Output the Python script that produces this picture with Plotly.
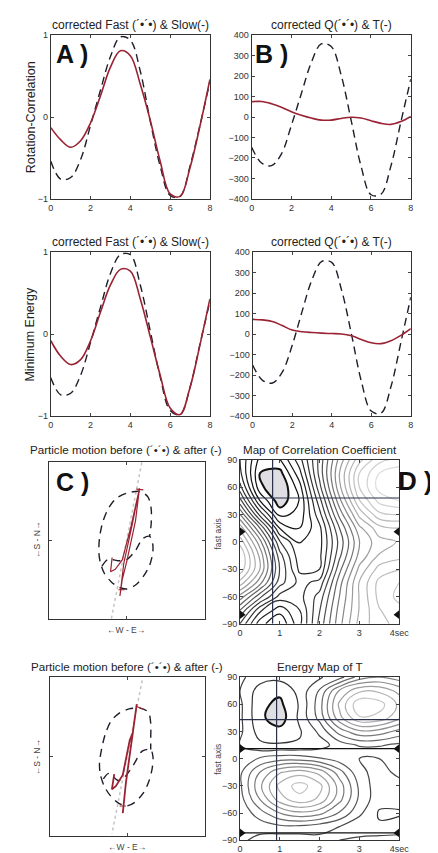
import plotly.graph_objects as go

W, H = 438, 853

# ---------------- data ----------------
t = [0, 0.5, 1, 1.5, 2, 2.5, 3, 3.5, 4, 4.5, 5, 5.5, 6, 6.5, 7, 7.5, 8]

rc_fast = [-0.54, -0.76, -0.74, -0.52, -0.10, 0.33, 0.74, 0.98, 0.94, 0.56, -0.05, -0.60, -0.96, -0.97, -0.60, -0.10, 0.43]
rc_slow = [-0.13, -0.28, -0.37, -0.29, -0.07, 0.26, 0.61, 0.81, 0.75, 0.40, -0.04, -0.54, -0.94, -0.97, -0.62, -0.11, 0.46]
rc_Q = [-148, -225, -238, -180, -40, 115, 267, 358, 345, 205, -15, -240, -380, -378, -240, -25, 185]
rc_T = [75, 76, 65, 48, 26, 9, -5, -15, -15, -7, -1, -5, -18, -31, -36, -22, 3]

me_fast = [-0.53, -0.74, -0.72, -0.50, -0.10, 0.33, 0.74, 0.97, 0.97, 0.60, 0.04, -0.52, -0.93, -0.98, -0.65, -0.12, 0.40]
me_slow = [-0.08, -0.27, -0.37, -0.31, -0.08, 0.27, 0.60, 0.79, 0.77, 0.43, -0.03, -0.50, -0.90, -0.98, -0.65, -0.13, 0.43]
me_Q = [-150, -225, -238, -185, -55, 110, 265, 355, 350, 215, 0, -230, -375, -385, -255, -40, 180]
me_T = [72, 70, 62, 42, 20, 12, 8, 5, 3, 1, -8, -26, -42, -46, -32, -6, 27]

# particle motion (normalised units)
pm1_before_x = [-0.32, -0.24, -0.12, -0.01, 0.11, 0.20, 0.29, 0.33, 0.33, 0.29, 0.21, 0.11, 0.00, -0.10, -0.20, -0.29, -0.34, -0.36, -0.35, -0.31, -0.24, -0.14, 0.00, 0.17, 0.27, 0.31, 0.31, 0.29]
pm1_before_y = [-0.33, -0.24, -0.26, -0.25, -0.13, 0.02, 0.05, -0.05, -0.16, -0.32, -0.46, -0.57, -0.62, -0.60, -0.53, -0.42, -0.29, -0.15, 0.04, 0.23, 0.40, 0.53, 0.60, 0.62, 0.55, 0.40, 0.21, 0.05]
pm1_after_x = [-0.19, -0.21, -0.15, -0.06, 0.05, 0.16, 0.07, -0.04, -0.09, -0.06, 0.00, 0.11, 0.16]
pm1_after_y = [-0.22, -0.40, -0.37, -0.25, 0.17, 0.66, 0.21, -0.29, -0.71, -0.50, -0.26, 0.25, 0.66]
pm1_ticks_x = [0.12, 0.21, None, -0.11, -0.03]
pm1_ticks_y = [0.65, 0.64, None, -0.63, -0.63]
pm1_axis_x = [0.19, -0.20]
pm1_axis_y = [0.99, -1.0]

pm2_before_x = [-0.31, -0.24, -0.12, -0.04, 0.08, 0.19, 0.30, 0.33, 0.32, 0.28, 0.21, 0.10, -0.01, -0.12, -0.22, -0.30, -0.35, -0.36, -0.33, -0.28, -0.21, -0.10, 0.02, 0.16, 0.27, 0.30, 0.30, 0.30]
pm2_before_y = [-0.28, -0.21, -0.30, -0.26, -0.10, 0.07, 0.09, -0.01, -0.14, -0.30, -0.45, -0.57, -0.62, -0.58, -0.49, -0.37, -0.22, -0.08, 0.11, 0.30, 0.45, 0.55, 0.60, 0.61, 0.56, 0.42, 0.23, 0.09]
pm2_after_x = [-0.17, -0.20, -0.15, -0.06, 0.03, 0.07, 0.05, 0.12, 0.04, -0.02, -0.06]
pm2_after_y = [-0.22, -0.41, -0.37, -0.23, 0.21, 0.30, 0.17, 0.66, 0.13, -0.33, -0.71]
pm2_ticks_x = [0.12, 0.20, None, -0.10, -0.02]
pm2_ticks_y = [0.63, 0.60, None, -0.62, -0.62]
pm2_axis_x = [0.19, -0.20]
pm2_axis_y = [0.96, -0.97]

# contour maps
map_dt = [0, 0.5, 1, 1.5, 2, 2.5, 3, 3.5, 4]
map_phi = [-90, -75, -60, -45, -30, -15, 0, 15, 30, 45, 60, 75, 90]
corr_z = [
    [0.45, 0.72, 0.82, 0.62, 0.35, 0.10, -0.10, -0.20, -0.25],
    [0.30, 0.58, 0.72, 0.60, 0.38, 0.12, -0.08, -0.22, -0.28],
    [0.10, 0.35, 0.55, 0.55, 0.42, 0.15, -0.08, -0.25, -0.32],
    [-0.12, 0.12, 0.42, 0.55, 0.50, 0.18, -0.08, -0.25, -0.30],
    [-0.28, 0.00, 0.38, 0.62, 0.60, 0.25, -0.02, -0.18, -0.22],
    [-0.30, 0.02, 0.42, 0.65, 0.62, 0.32, 0.05, -0.08, -0.12],
    [-0.20, 0.12, 0.52, 0.68, 0.63, 0.35, 0.08, -0.05, -0.08],
    [-0.05, 0.30, 0.68, 0.75, 0.62, 0.30, 0.02, -0.12, -0.15],
    [0.15, 0.55, 0.85, 0.80, 0.55, 0.20, -0.10, -0.28, -0.30],
    [0.35, 0.75, 0.95, 0.82, 0.48, 0.10, -0.22, -0.40, -0.45],
    [0.50, 0.88, 0.98, 0.78, 0.40, 0.02, -0.30, -0.48, -0.52],
    [0.58, 0.90, 0.93, 0.70, 0.35, 0.00, -0.30, -0.45, -0.50],
    [0.60, 0.85, 0.83, 0.63, 0.35, 0.05, -0.20, -0.35, -0.40],
]
energy_z = [
    [0.30, 0.25, 0.22, 0.22, 0.25, 0.28, 0.30, 0.32, 0.32],
    [0.28, 0.32, 0.35, 0.35, 0.32, 0.28, 0.22, 0.20, 0.22],
    [0.30, 0.42, 0.55, 0.62, 0.58, 0.45, 0.30, 0.18, 0.18],
    [0.33, 0.55, 0.78, 0.88, 0.80, 0.58, 0.35, 0.22, 0.22],
    [0.35, 0.62, 0.85, 0.95, 0.85, 0.60, 0.35, 0.22, 0.25],
    [0.35, 0.55, 0.72, 0.78, 0.70, 0.50, 0.30, 0.25, 0.30],
    [0.32, 0.38, 0.42, 0.42, 0.38, 0.32, 0.28, 0.28, 0.32],
    [0.28, 0.21, 0.20, 0.20, 0.24, 0.32, 0.38, 0.38, 0.35],
    [0.30, 0.15, 0.13, 0.18, 0.30, 0.50, 0.62, 0.60, 0.52],
    [0.30, 0.12, 0.05, 0.21, 0.40, 0.70, 0.90, 0.88, 0.75],
    [0.30, 0.12, 0.08, 0.20, 0.42, 0.75, 0.98, 0.95, 0.80],
    [0.28, 0.15, 0.12, 0.22, 0.38, 0.65, 0.80, 0.80, 0.70],
    [0.30, 0.23, 0.22, 0.25, 0.27, 0.33, 0.50, 0.55, 0.50],
]
corr_best = [0.82, 48]
energy_best = [0.92, 43]
corr_marks_phi = [11, -80]
energy_marks_phi = [11, -82]

# ---------------- figure ----------------
FONT = "Liberation Sans, Arial, sans-serif"
RED = "#9a2232"
DASH = "#1e1e2a"

def px_x(p):
    return p / W

def px_y(p):
    return 1 - p / H

panels = {
    1: ([41, 205], [22.5, 188]),
    2: ([248, 412], [22.5, 188]),
    3: ([41, 205], [242, 408]),
    4: ([249, 412], [242, 408]),
    5: ([39, 200], [454, 613]),
    6: ([236, 400], [452, 618]),
    7: ([40, 200], [672, 833]),
    8: ([236, 400], [672, 837]),
}

fig = go.Figure()
layout = dict(
    width=W, height=H, margin=dict(l=0, r=0, t=0, b=0),
    paper_bgcolor="white", plot_bgcolor="white", showlegend=False,
    font=dict(family=FONT, size=9, color="#333"),
)

def axis_common():
    return dict(showgrid=False, zeroline=False, showline=True, linecolor="#333", linewidth=1,
                mirror="ticks", ticks="inside", ticklen=3, tickcolor="#444",
                tickfont=dict(size=9, color="#333", family=FONT))

for k, (xs, ys) in panels.items():
    xa = axis_common()
    ya = axis_common()
    xa["domain"] = [px_x(xs[0]), px_x(xs[1])]
    ya["domain"] = [px_y(ys[1]), px_y(ys[0])]
    xa["anchor"] = "y" if k == 1 else f"y{k}"
    ya["anchor"] = "x" if k == 1 else f"x{k}"
    if k in (1, 3):
        xa.update(range=[0, 8], tickvals=[0, 2, 4, 6, 8])
        ya.update(range=[-1, 1], tickvals=[-1, 0, 1])
    elif k in (2, 4):
        xa.update(range=[0, 8], tickvals=[0, 2, 4, 6, 8])
        ya.update(range=[-400, 400], tickvals=list(range(-400, 401, 100)))
    elif k in (5, 7):
        xa.update(range=[-1, 1], tickvals=[0], showticklabels=False)
        ya.update(range=[-1, 1], tickvals=[0], showticklabels=False)
    else:
        xa.update(range=[0, 4], tickvals=[0, 1, 2, 3, 4], ticktext=["0", "1", "2", "3", "4sec"])
        ya.update(range=[-90, 90], tickvals=[-90, -60, -30, 0, 30, 60, 90])
    layout["xaxis" if k == 1 else f"xaxis{k}"] = xa
    layout["yaxis" if k == 1 else f"yaxis{k}"] = ya

def ax(k):
    return ("x", "y") if k == 1 else (f"x{k}", f"y{k}")

def add_lines(k, fast, slow):
    xa, ya = ax(k)
    fig.add_trace(go.Scatter(x=t, y=fast, mode="lines", xaxis=xa, yaxis=ya,
                             line=dict(color=DASH, width=1.4, dash="8px,5px", shape="spline", smoothing=1.0)))
    fig.add_trace(go.Scatter(x=t, y=slow, mode="lines", xaxis=xa, yaxis=ya,
                             line=dict(color=RED, width=1.6, shape="spline", smoothing=1.0)))

add_lines(1, rc_fast, rc_slow)
add_lines(2, rc_Q, rc_T)
add_lines(3, me_fast, me_slow)
add_lines(4, me_Q, me_T)

def add_pm(k, bx, by, axx, axy, afx, afy, tkx, tky, w):
    xa, ya = ax(k)
    fig.add_trace(go.Scatter(x=axx, y=axy, mode="lines", xaxis=xa, yaxis=ya,
                             line=dict(color="#c4c4c4", width=1.5, dash="dot")))
    fig.add_trace(go.Scatter(x=bx, y=by, mode="lines", xaxis=xa, yaxis=ya,
                             line=dict(color=DASH, width=1.4, dash="8px,6px", shape="spline", smoothing=0.8)))
    fig.add_trace(go.Scatter(x=afx, y=afy, mode="lines", xaxis=xa, yaxis=ya,
                             line=dict(color=RED, width=w)))
    fig.add_trace(go.Scatter(x=tkx, y=tky, mode="lines", xaxis=xa, yaxis=ya,
                             line=dict(color=RED, width=1.2)))

add_pm(5, pm1_before_x, pm1_before_y, pm1_axis_x, pm1_axis_y, pm1_after_x, pm1_after_y, pm1_ticks_x, pm1_ticks_y, 1.2)
add_pm(7, pm2_before_x, pm2_before_y, pm2_axis_x, pm2_axis_y, pm2_after_x, pm2_after_y, pm2_ticks_x, pm2_ticks_y, 1.8)

def add_map(k, z, best, marks, fill_op, fill_val, lo, hi, start, end, step, reverse, marklines):
    xa, ya = ax(k)
    cs = [[0, "#e2e2e2"], [0.35, "#a8a8a8"], [0.65, "#4a4a4a"], [1, "#111111"]]
    if reverse:
        cs = [[0, "#333333"], [0.25, "#5a5a5a"], [0.55, "#8c8c8c"], [1, "#d6d6d6"]]
    # plotly shades the region that violates the constraint
    fig.add_trace(go.Contour(x=map_dt, y=map_phi, z=z, xaxis=xa, yaxis=ya, showscale=False,
                             contours=dict(type="constraint", operation=fill_op, value=fill_val),
                             fillcolor="rgba(212,212,218,0.75)", line=dict(color="#111", width=2, smoothing=1.2)))
    fig.add_trace(go.Contour(x=map_dt, y=map_phi, z=z, xaxis=xa, yaxis=ya, showscale=False,
                             contours=dict(coloring="lines", start=start, end=end, size=step),
                             colorscale=cs, zmin=lo, zmax=hi, line=dict(width=1.2, smoothing=1.2)))
    fig.add_trace(go.Scatter(x=[best[0], best[0]], y=[-90, 90], mode="lines", xaxis=xa, yaxis=ya,
                             line=dict(color="#2a3048", width=1.2)))
    fig.add_trace(go.Scatter(x=[0, 4], y=[best[1], best[1]], mode="lines", xaxis=xa, yaxis=ya,
                             line=dict(color="#2a3048", width=1.2)))
    for m in marks:
        if marklines:
            fig.add_trace(go.Scatter(x=[0, 4], y=[m, m], mode="lines", xaxis=xa, yaxis=ya,
                                     line=dict(color="#111", width=1.2)))
        fig.add_trace(go.Scatter(x=[0.04, 3.96], y=[m, m], mode="markers", xaxis=xa, yaxis=ya, cliponaxis=False,
                                 marker=dict(symbol=["triangle-right", "triangle-left"], size=8, color="#111")))

add_map(6, corr_z, corr_best, corr_marks_phi, "<", 0.9, -0.5, 1.0, -0.9, 0.84, 0.075, False, False)
add_map(8, energy_z, energy_best, energy_marks_phi, ">", 0.1, 0.0, 1.0, 0.19, 1.0, 0.09, True, True)

ann = []
def text(x, y, s, size=12, angle=0, bold=False, color="#222", anchor="center"):
    ann.append(dict(x=px_x(x), y=px_y(y), xref="paper", yref="paper", text=f"<b>{s}</b>" if bold else s,
                    showarrow=False, textangle=angle, xanchor=anchor, yanchor="middle",
                    font=dict(family=FONT, size=size, color=color)))

text(123, 12, "corrected Fast (´•´•) & Slow(-)")
text(330, 12, "corrected Q(´•´•) & T(-)")
text(123, 232, "corrected Fast (´•´•) & Slow(-)")
text(330, 232, "corrected Q(´•´•) & T(-)")
text(119, 442, "Particle motion before (´•´•) & after (-)", size=11.6)
text(318, 442, "Map of Correlation Coefficient", size=11.6)
text(120, 661, "Particle motion before (´•´•) & after (-)", size=11.6)
text(318, 661, "Energy Map of T", size=11.6)
text(20, 105, "Rotation-Correlation", size=12.5, angle=-90)
text(20, 325, "Minimum Energy", size=12.5, angle=-90)
text(119, 624, "←W - E→", size=8.5, color="#444")
text(120, 844, "←W - E→", size=8.5, color="#444")
text(27, 533, "←S - N→", size=8.5, angle=-90, color="#444")
text(27, 753, "←S - N→", size=8.5, angle=-90, color="#444")
text(213, 527, "fast axis", size=8.5, angle=-90, color="#444")
text(213, 755, "fast axis", size=8.5, angle=-90, color="#444")
text(63, 41, "A )", size=25, bold=True, color="#111")
text(268, 41, "B )", size=25, bold=True, color="#111")
text(63, 475, "C )", size=25, bold=True, color="#111")
text(437, 474, "D )", size=26, bold=True, color="#111", anchor="right")
layout["annotations"] = ann

fig.update_layout(**layout)
fig.write_html("out.html")
